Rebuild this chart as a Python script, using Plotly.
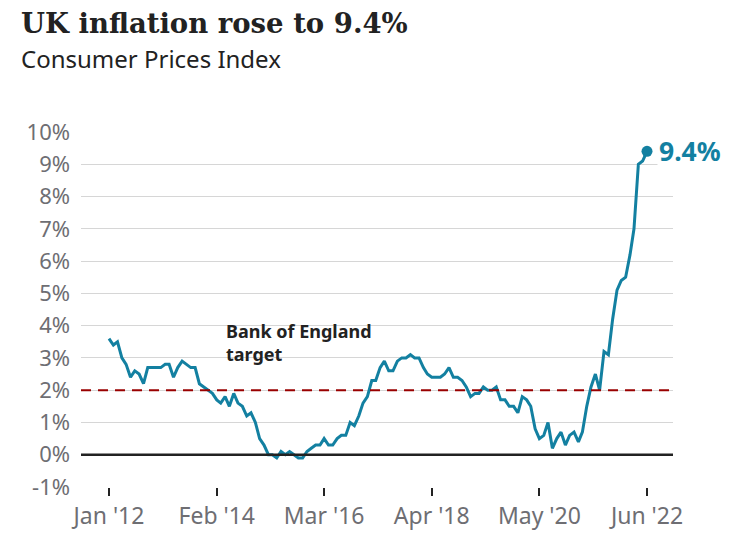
import plotly.graph_objects as go
import pandas as pd

# UK CPI annual rate, monthly Jan 2012 - Jun 2022 (%)
cpi_2012 = [3.6, 3.4, 3.5, 3.0, 2.8, 2.4, 2.6, 2.5, 2.2, 2.7, 2.7, 2.7]
cpi_2013 = [2.7, 2.8, 2.8, 2.4, 2.7, 2.9, 2.8, 2.7, 2.7, 2.2, 2.1, 2.0]
cpi_2014 = [1.9, 1.7, 1.6, 1.8, 1.5, 1.9, 1.6, 1.5, 1.2, 1.3, 1.0, 0.5]
cpi_2015 = [0.3, 0.0, 0.0, -0.1, 0.1, 0.0, 0.1, 0.0, -0.1, -0.1, 0.1, 0.2]
cpi_2016 = [0.3, 0.3, 0.5, 0.3, 0.3, 0.5, 0.6, 0.6, 1.0, 0.9, 1.2, 1.6]
cpi_2017 = [1.8, 2.3, 2.3, 2.7, 2.9, 2.6, 2.6, 2.9, 3.0, 3.0, 3.1, 3.0]
cpi_2018 = [3.0, 2.7, 2.5, 2.4, 2.4, 2.4, 2.5, 2.7, 2.4, 2.4, 2.3, 2.1]
cpi_2019 = [1.8, 1.9, 1.9, 2.1, 2.0, 2.0, 2.1, 1.7, 1.7, 1.5, 1.5, 1.3]
cpi_2020 = [1.8, 1.7, 1.5, 0.8, 0.5, 0.6, 1.0, 0.2, 0.5, 0.7, 0.3, 0.6]
cpi_2021 = [0.7, 0.4, 0.7, 1.5, 2.1, 2.5, 2.0, 3.2, 3.1, 4.2, 5.1, 5.4]
cpi_2022 = [5.5, 6.2, 7.0, 9.0, 9.1, 9.4]

cpi = (cpi_2012 + cpi_2013 + cpi_2014 + cpi_2015 + cpi_2016 + cpi_2017
       + cpi_2018 + cpi_2019 + cpi_2020 + cpi_2021 + cpi_2022)
dates = list(pd.date_range("2012-01-01", periods=len(cpi), freq="MS"))

tick_dates = ["2012-01-01", "2014-02-01", "2016-03-01", "2018-04-01", "2020-05-01", "2022-06-01"]
tick_labels = ["Jan '12", "Feb '14", "Mar '16", "Apr '18", "May '20", "Jun '22"]
y_ticks = list(range(-1, 11))
y_labels = [f"{v}%" for v in y_ticks]
target = 2.0
last_label = "9.4%"

TEAL = "#1380A1"
GREY = "#6e6e73"
FONT = "Noto Sans"

# plot area in pixels
L, R, T, B = 81, 673, 132, 487
W, H = 747, 534

def px(xp):
    return (xp - L) / (R - L)

def py(yp):
    return (B - yp) / (B - T)

fig = go.Figure()

# white box behind the target label (covers grid lines)
fig.add_shape(type="rect", xref="paper", yref="paper",
              x0=px(220), x1=px(380), y0=py(362), y1=py(315),
              fillcolor="white", line=dict(width=0), layer="below")

fig.add_trace(go.Scatter(
    x=dates, y=cpi, mode="lines",
    line=dict(color=TEAL, width=3), hoverinfo="skip", showlegend=False,
))
fig.add_trace(go.Scatter(
    x=[dates[-1]], y=[cpi[-1]], mode="markers",
    marker=dict(color=TEAL, size=11), hoverinfo="skip", showlegend=False,
))

fig.add_hline(y=target, line=dict(color="#990000", width=2, dash="10px,7px"), layer="above")
fig.add_hline(y=0, line=dict(color="#222222", width=2.5))

fig.add_annotation(
    x=dates[-1], y=cpi[-1], xref="x", yref="y", text="<b>" + last_label + "</b>",
    showarrow=False, xanchor="left", yanchor="middle", xshift=10, yshift=0,
    font=dict(family=FONT, size=26.5, color=TEAL), bgcolor="white", borderpad=1,
)
fig.add_annotation(
    x=px(224), y=py(342), xref="paper", yref="paper",
    text="<b>Bank of England<br>target</b>", align="left",
    showarrow=False, xanchor="left", yanchor="middle",
    font=dict(family=FONT, size=18, color="#222222"),
)

fig.add_annotation(
    x=px(19), y=py(41), xref="paper", yref="paper", text="<b>UK inflation rose to 9.4%</b>",
    showarrow=False, xanchor="left", yanchor="bottom",
    font=dict(family="DejaVu Serif", size=27.5, color="#222222"),
)
fig.add_annotation(
    x=px(19), y=py(77), xref="paper", yref="paper", text="Consumer Prices Index",
    showarrow=False, xanchor="left", yanchor="bottom",
    font=dict(family=FONT, size=24, color="#222222"),
)

# x range based on pixel layout
d0 = pd.Timestamp("2012-01-01")
d1 = pd.Timestamp("2022-06-01")
span = (d1 - d0).days
ppd = (647 - 109) / span
xr0 = d0 - pd.Timedelta(days=(109 - L) / ppd)
xr1 = d1 + pd.Timedelta(days=(R - 647) / ppd)

fig.update_layout(
    width=W, height=H,
    margin=dict(l=L, r=W - R, t=T, b=H - B),
    paper_bgcolor="white", plot_bgcolor="white",
    font=dict(family=FONT, color=GREY),
    xaxis=dict(
        range=[xr0, xr1], tickvals=tick_dates, ticktext=tick_labels,
        showgrid=False, zeroline=False, showline=False, automargin=False,
        ticks="outside", ticklen=8, tickcolor="#222222", tickwidth=1.5,
        tickfont=dict(size=23, color=GREY),
    ),
    yaxis=dict(
        range=[-1, 10], tickvals=y_ticks, ticktext=y_labels,
        showgrid=True, gridcolor="#d6d6d6", gridwidth=1,
        zeroline=False, showline=False, ticks="", automargin=False,
        ticklabelstandoff=10,
        tickfont=dict(size=22, color=GREY),
    ),
)

fig.write_html("out.html")
